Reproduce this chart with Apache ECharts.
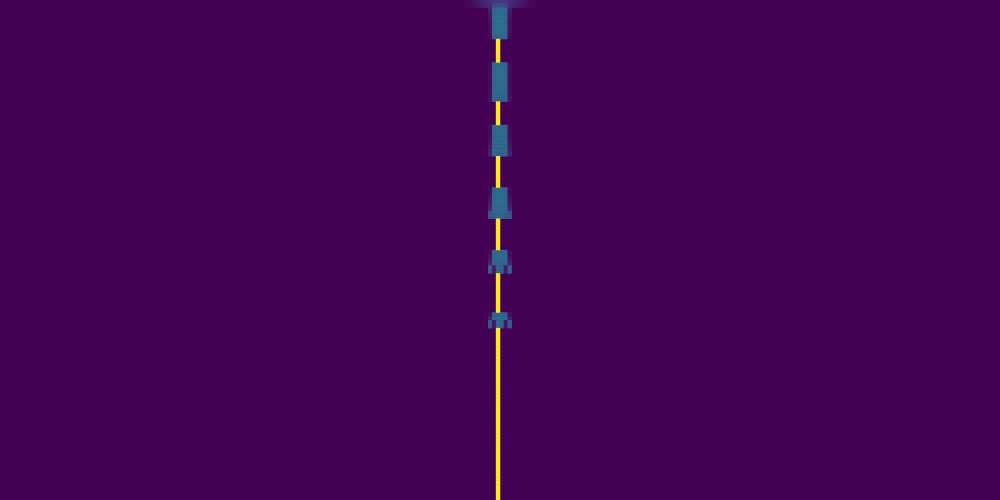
<!DOCTYPE html>
<html>
<head>
<meta charset="utf-8">
<script src="https://cdn.jsdelivr.net/npm/echarts@6/dist/echarts.min.js"></script>
<style>html,body{margin:0;padding:0;background:#440154;}#chart{width:1000px;height:500px;}</style>
</head>
<body>
<div id="chart"></div>
<script>
// Grid of 256 columns x 128 rows (image-like heatmap, viridis scale 0..1)
const xCategories = Array.from({length: 256}, (_, i) => String(i));
const yCategories = Array.from({length: 128}, (_, i) => String(i));

// Bright vertical line: column and the rows where it shows
const lineCol = 127;
const lineRows = [10,11,12,13,14,15,
  26,27,28,29,30,31,
  40,41,42,43,44,45,46,47,
  56,57,58,59,60,61,62,63,
  70,71,72,73,74,75,76,77,78,79,
  84,85,86,87,88,89,90,91,92,93,94,95,96,97,98,99,100,101,102,103,104,105,
  106,107,108,109,110,111,112,113,114,115,116,117,118,119,120,121,122,123,124,125,126,127];

// Faint band at the top: first column index and values per row
const bandStartCol = 119;
const bandRows = [
  [0, 0.02,0.03,0.05,0.07,0.09,0.11,0.13,0.16,0.18,0.18,0.16,0.13,0.11,0.09,0.07,0.05,0.03,0.02],
  [1, 0.02,0.03,0.04,0.06,0.08,0.10,0.12,0.22,0.24,0.24,0.22,0.12,0.10,0.08,0.06,0.04,0.03,0.02]
];

// Blocks on the line: first column index (125) and values for columns 125..130
const blockStartCol = 125;
const blockRows = [
  [2, 0.08,0.33,0.35,0.35,0.33,0.08],
  [3, 0.07,0.34,0.36,0.36,0.34,0.07],
  [4, 0.06,0.34,0.37,0.37,0.34,0.06],
  [5, 0.05,0.34,0.38,0.38,0.34,0.05],
  [6, 0.04,0.34,0.38,0.38,0.34,0.04],
  [7, 0.04,0.34,0.37,0.37,0.34,0.04],
  [8, 0.03,0.33,0.35,0.35,0.33,0.03],
  [9, 0.03,0.32,0.31,0.31,0.32,0.03],

  [16, 0.03,0.33,0.34,0.34,0.33,0.03],
  [17, 0.03,0.33,0.35,0.35,0.33,0.03],
  [18, 0.03,0.33,0.36,0.36,0.33,0.03],
  [19, 0.03,0.33,0.36,0.36,0.33,0.03],
  [20, 0.03,0.33,0.36,0.36,0.33,0.03],
  [21, 0.03,0.33,0.35,0.35,0.33,0.03],
  [22, 0.03,0.33,0.35,0.35,0.33,0.03],
  [23, 0.04,0.33,0.34,0.34,0.33,0.04],
  [24, 0.04,0.33,0.33,0.33,0.33,0.04],
  [25, 0.05,0.32,0.31,0.31,0.32,0.05],

  [32, 0.03,0.33,0.34,0.34,0.33,0.03],
  [33, 0.03,0.33,0.35,0.35,0.33,0.03],
  [34, 0.03,0.33,0.35,0.35,0.33,0.03],
  [35, 0.04,0.33,0.35,0.35,0.33,0.04],
  [36, 0.05,0.33,0.34,0.34,0.33,0.05],
  [37, 0.07,0.33,0.34,0.34,0.33,0.07],
  [38, 0.08,0.33,0.33,0.33,0.33,0.08],
  [39, 0.10,0.32,0.31,0.31,0.32,0.10],

  [48, 0.03,0.33,0.34,0.34,0.33,0.03],
  [49, 0.03,0.33,0.35,0.35,0.33,0.03],
  [50, 0.04,0.33,0.35,0.35,0.33,0.04],
  [51, 0.06,0.33,0.35,0.35,0.33,0.06],
  [52, 0.08,0.33,0.34,0.34,0.33,0.08],
  [53, 0.11,0.33,0.34,0.34,0.33,0.11],
  [54, 0.24,0.30,0.33,0.33,0.30,0.24],
  [55, 0.26,0.28,0.32,0.32,0.28,0.26],

  [64, 0.03,0.33,0.34,0.34,0.33,0.03],
  [65, 0.04,0.33,0.35,0.35,0.33,0.04],
  [66, 0.07,0.33,0.34,0.34,0.33,0.07],
  [67, 0.10,0.32,0.33,0.33,0.32,0.10],
  [68, 0.30,0.07,0.33,0.33,0.07,0.30],
  [69, 0.30,0.07,0.32,0.32,0.07,0.30],

  [80, 0.04,0.31,0.33,0.33,0.31,0.04],
  [81, 0.08,0.33,0.34,0.34,0.33,0.08],
  [82, 0.28,0.06,0.33,0.33,0.06,0.28],
  [83, 0.28,0.06,0.32,0.32,0.06,0.28]
];

const viridis = ['#440154','#472c7a','#3b528b','#2c728e','#21918c','#28ae80','#5ec962','#addc30','#fde725'];

const cells = [];
bandRows.forEach(r => { for (let k = 1; k < r.length; k++) cells.push([bandStartCol + k - 1, r[0], r[k]]); });
blockRows.forEach(r => { for (let k = 1; k < r.length; k++) cells.push([blockStartCol + k - 1, r[0], r[k]]); });
lineRows.forEach(row => cells.push([lineCol, row, 1]));

const chart = echarts.init(document.getElementById('chart'), null, {renderer: 'canvas'});
chart.setOption({
  backgroundColor: '#440154',
  animation: false,
  grid: {left: 0, right: 0, top: 0, bottom: 0},
  xAxis: {type: 'category', data: xCategories, show: false},
  yAxis: {type: 'category', data: yCategories, inverse: true, show: false},
  visualMap: {show: false, min: 0, max: 1, dimension: 2, inRange: {color: viridis}},
  series: [{
    type: 'heatmap',
    data: cells,
    itemStyle: {borderWidth: 0},
    emphasis: {disabled: true}
  }]
});
</script>
</body>
</html>
